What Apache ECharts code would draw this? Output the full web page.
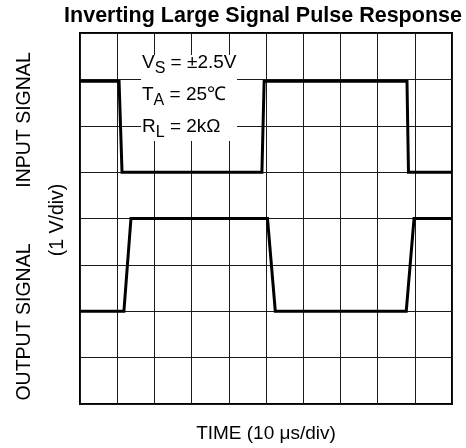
<!DOCTYPE html>
<html>
<head>
<meta charset="utf-8">
<script src="https://cdn.jsdelivr.net/npm/echarts@6/dist/echarts.min.js"></script>
<style>
  html, body { margin: 0; padding: 0; background: #fff; }
  #chart { width: 466px; height: 448px; }
</style>
</head>
<body>
<div id="chart"></div>
<script>
// Scope trace, both signals in divisions (1 V/div vertical, 10 us/div horizontal)
const inputTime  = [0, 1.05, 1.13, 4.89, 4.95, 8.79, 8.83, 10];
const inputLevel = [6.96, 6.96, 5, 5, 6.96, 6.96, 5, 5];
const outputTime  = [0, 1.18, 1.37, 5.04, 5.25, 8.77, 8.98, 10];
const outputLevel = [2, 2, 4, 4, 2, 2, 4, 4];

const xDivisions = 10;
const yDivisions = 8;

const titleText = 'Inverting Large Signal Pulse Response';
const xName = 'TIME (10 \u03BCs/div)';
const conditions = [
  '{m|V}{s|S}{m| = \u00B12.5V}',
  '{m|T}{s|A}{m| = 25\u2103}',
  '{m|R}{s|L}{m| = 2k\u03A9}'
];

const FONT = '"Liberation Sans", Arial, Helvetica, sans-serif';

function pairs(xs, ys) { return xs.map((x, i) => [x, ys[i]]); }

const chart = echarts.init(document.getElementById('chart'), null, { renderer: 'canvas' });

const gridLine = { show: true, lineStyle: { color: '#1a1a1a', width: 1 } };

chart.setOption({
  animation: false,
  backgroundColor: '#fff',
  grid: {
    left: 80, top: 33, width: 372, height: 372.5,
    show: true, borderColor: '#000', borderWidth: 2, backgroundColor: 'transparent'
  },
  xAxis: {
    type: 'value', min: 0, max: xDivisions, interval: 1,
    axisLine: { show: false }, axisTick: { show: false }, axisLabel: { show: false },
    splitLine: gridLine,
    name: xName, nameLocation: 'middle', nameGap: 20,
    nameTextStyle: { fontFamily: FONT, fontSize: 19, color: '#000', verticalAlign: 'top' }
  },
  yAxis: {
    type: 'value', min: 0, max: yDivisions, interval: 1,
    axisLine: { show: false }, axisTick: { show: false }, axisLabel: { show: false },
    splitLine: gridLine
  },
  series: [
    {
      name: 'INPUT SIGNAL', type: 'line', data: pairs(inputTime, inputLevel),
      showSymbol: false, symbol: 'none', z: 5,
      lineStyle: { color: '#000', width: 3, join: 'miter' }
    },
    {
      name: 'OUTPUT SIGNAL', type: 'line', data: pairs(outputTime, outputLevel),
      showSymbol: false, symbol: 'none', z: 5,
      lineStyle: { color: '#000', width: 3, join: 'miter' }
    }
  ],
  graphic: [
    {
      type: 'text', z: 10,
      style: { text: titleText, x: 263, y: 16, align: 'center', verticalAlign: 'middle',
               font: 'bold 21.5px ' + FONT, fill: '#000' }
    },
    {
      type: 'text', z: 10, rotation: Math.PI / 2, x: 25, y: 120,
      style: { text: 'INPUT SIGNAL', align: 'center', verticalAlign: 'middle',
               font: '19.5px ' + FONT, fill: '#000' }
    },
    {
      type: 'text', z: 10, rotation: Math.PI / 2, x: 58, y: 220,
      style: { text: '(1 V/div)', align: 'center', verticalAlign: 'middle',
               font: '19.5px ' + FONT, fill: '#000' }
    },
    {
      type: 'text', z: 10, rotation: Math.PI / 2, x: 25, y: 322,
      style: { text: 'OUTPUT SIGNAL', align: 'center', verticalAlign: 'middle',
               font: '19.5px ' + FONT, fill: '#000' }
    },
    {
      type: 'rect', z: 10,
      shape: { x: 141, y: 55, width: 96, height: 86 },
      style: { fill: '#fff', stroke: null }
    }
  ].concat(conditions.map((t, i) => ({
    type: 'text', z: 11, x: 142, y: 63 + i * 32,
    style: {
      text: t, align: 'left', verticalAlign: 'middle',
      rich: {
        m: { fontFamily: FONT, fontSize: 19, color: '#000' },
        s: { fontFamily: FONT, fontSize: 16, color: '#000', padding: [11, 0, 0, 0] }
      }
    }
  })))
});
</script>
</body>
</html>
